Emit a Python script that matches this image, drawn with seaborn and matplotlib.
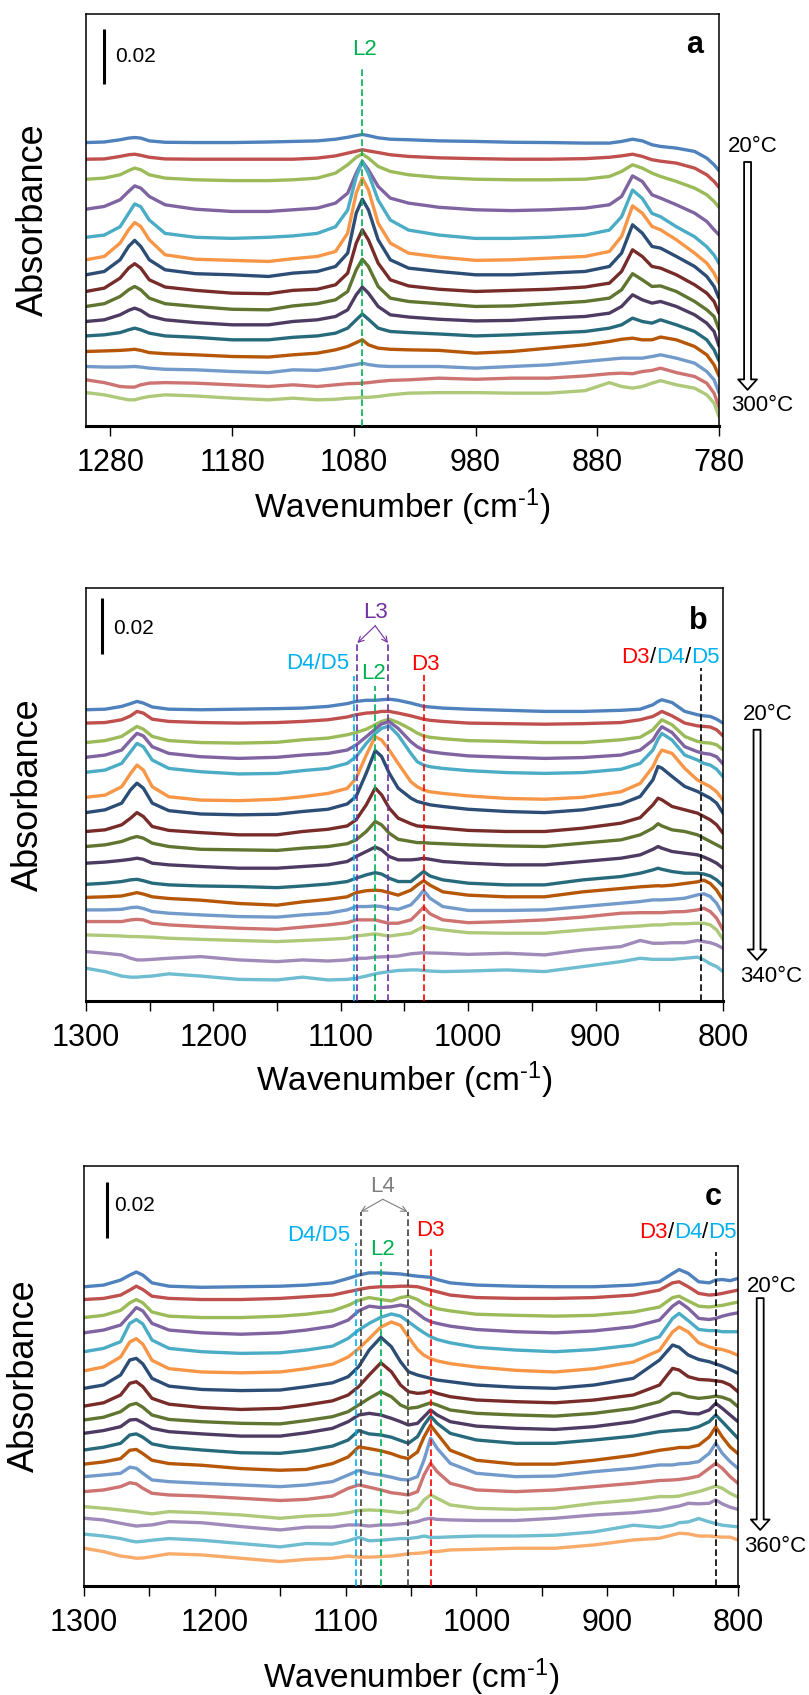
import matplotlib
matplotlib.use("Agg")
import matplotlib.pyplot as plt
import numpy as np
import pandas as pd
import seaborn as sns

# ------------------------------------------------------------------ data
COLORS = ['#4F81BD', '#C0504D', '#9BBB59', '#8064A2', '#4BACC6', '#F79646',
          '#2C4D75', '#772C2A', '#5F7530', '#4D3B62', '#276A7C', '#B65708',
          '#729ACA', '#CD7371', '#AFC97A', '#A08AB9', '#6FBDD1', '#F9AB6B']

# ---- panel a (20-300 C), absorbance in mAU, profile relative to 1300 cm-1 point
wn_a = [1300, 1285, 1272, 1265, 1260, 1255, 1248, 1235, 1210, 1180, 1150, 1130, 1110,
        1095, 1085, 1078, 1073, 1068, 1060, 1050, 1035, 1010, 980, 950, 920, 890, 870,
        860, 851, 843, 835, 828, 815, 800, 790, 784, 780]
temps_a = [20, 40, 60, 80, 100, 120, 140, 160, 180, 200, 220, 240, 260, 280, 300]
offset_a = [102.0, 96.0, 88.8, 78.0, 67.9, 59.8, 54.4, 48.4, 43.0, 37.6, 32.4, 26.8, 21.4, 16.6, 12.0]
a20 = [0, 0.2, 1.0, 1.6, 1.8, 1.6, 0.6, 0.1, 0, 0, 0.2, 0.4, 0.6, 1.2, 1.9, 2.5, 2.9, 2.5, 1.7, 1.2, 1.0, 0.6, 0.4, 0.1, 0, -0.2, -0.2, 0.4, 1.2, 0.6, -0.8, -1.4, -2.0, -3.2, -5.6, -8.0, -10.1]
a40 = [0, 0.1, 1.0, 1.6, 1.8, 1.4, 0.7, 0.1, 0, 0, 0, 0, 0.4, 1.2, 2.2, 2.9, 3.4, 3.0, 2.4, 1.6, 1.0, 0.5, 0.2, 0, 0, 0.2, 0.7, 1.2, 1.8, 1.0, -0.2, -0.7, -1.4, -3.2, -5.6, -8.0, -10.1]
a60 = [0, 0.4, 1.6, 3.1, 4.0, 3.4, 1.6, 0.4, -0.2, -0.5, -0.5, -0.2, 0.4, 2.2, 5.2, 7.9, 9.1, 7.6, 4.6, 2.8, 1.6, 0.6, 0, -0.2, -0.2, 0, 1.0, 2.8, 5.2, 4.0, 2.2, 1.0, -0.8, -3.2, -5.6, -8.0, -10.1]
a80 = [0, 1.0, 3.4, 6.4, 8.4, 7.6, 4.6, 1.6, 0, -0.8, -0.8, -0.2, 0.4, 2.2, 5.8, 13.0, 17.2, 14.2, 8.2, 4.0, 2.2, 0.7, -0.2, -0.5, -0.2, 0.4, 1.6, 4.6, 12.0, 10.0, 5.2, 4.0, 1.6, -1.4, -4.4, -7.4, -9.2]
a100 = [0, 0.8, 3.8, 8.6, 12.0, 11.0, 6.2, 1.4, 0, -0.4, 0, 0.5, 1.4, 3.8, 9.8, 21.8, 27.2, 23.0, 13.4, 6.2, 2.6, 0.8, -0.4, -0.4, 0, 0.8, 2.6, 7.4, 17.0, 14.0, 8.6, 7.4, 3.8, 0.2, -3.4, -6.4, -9.4]
a120 = [0, 1.2, 6.0, 10.8, 13.4, 12.0, 7.2, 1.8, 0.2, -0.2, -0.6, 0.4, 1.2, 3.0, 9.6, 24.0, 29.4, 25.2, 13.2, 6.0, 2.4, 1.0, -0.2, 0, 0.6, 1.2, 3.0, 8.4, 19.4, 16.8, 12.0, 10.8, 7.2, 2.4, -1.2, -4.8, -8.4]
a140 = [0, 1.2, 5.4, 10.2, 12.4, 10.2, 5.4, 1.8, 0.4, 0, -0.6, 0.6, 1.2, 3.0, 7.8, 22.2, 27.2, 23.4, 12.6, 5.4, 2.4, 1.2, 0, 0, 0.6, 1.2, 3.0, 7.8, 18.0, 15.0, 10.2, 9.6, 6.6, 3.0, -0.6, -4.2, -8.4]
a160 = [0, 1.2, 4.8, 8.4, 10.0, 8.4, 4.2, 1.6, 0.4, -0.6, -0.8, 0.4, 0.8, 2.4, 6.6, 17.4, 22.2, 18.6, 10.2, 4.2, 2.0, 0.8, 0, 0.4, 0.8, 1.6, 3.0, 7.2, 15.0, 12.6, 9.0, 8.4, 6.0, 2.4, -0.6, -3.6, -7.8]
a180 = [0, 1.0, 3.6, 6.0, 7.2, 6.0, 3.0, 1.0, 0, -1.0, -1.2, 0.2, 1.0, 2.4, 5.4, 13.2, 17.0, 14.4, 7.2, 3.0, 1.8, 1.0, 0, 0.2, 1.0, 1.8, 3.0, 6.0, 11.8, 9.6, 7.2, 7.4, 5.4, 1.8, -1.2, -3.6, -8.2]
a200 = [0, 0.6, 2.4, 4.0, 4.8, 4.0, 2.0, 0.6, -0.4, -1.2, -1.2, 0, 0.6, 1.8, 4.2, 9.6, 12.4, 10.2, 5.4, 2.4, 1.6, 0.8, 0.2, 0.4, 1.2, 1.8, 3.0, 5.4, 9.6, 7.8, 6.6, 7.2, 5.4, 2.4, -0.6, -3.6, -8.8]
a220 = [0, 0.4, 1.2, 2.2, 2.8, 2.2, 1.0, 0, -0.5, -1.4, -1.4, -0.5, 0, 1.0, 2.8, 5.8, 7.9, 6.0, 2.8, 1.6, 1.2, 0.7, 0, 0.4, 1.0, 1.6, 2.8, 4.0, 6.4, 5.2, 4.6, 5.8, 4.0, 1.6, -1.4, -5.0, -8.9]
a240 = [0, 0.2, 0.4, 0.6, 0.8, 0.4, -0.4, -0.8, -1.2, -1.8, -2.0, -1.2, -0.6, 0.6, 1.8, 3.2, 4.2, 2.4, 1.2, 0.8, 0.6, 0.4, -0.6, 0, 1.2, 2.4, 3.6, 4.4, 4.8, 4.2, 4.2, 5.2, 4.2, 1.8, -1.2, -4.8, -8.8]
a260 = [0, -0.2, -0.2, -0.1, 0, -0.2, -0.6, -1.0, -1.2, -1.8, -2.2, -1.2, -1.4, -0.6, 0.2, 0.7, 1.2, 0.7, 0.2, 0, 0, 0, -0.6, 0, 0.6, 1.8, 2.6, 3.0, 3.0, 3.0, 3.6, 4.2, 3.0, 1.2, -1.8, -4.8, -9.4]
a280 = [0, -1.0, -2.4, -2.6, -2.6, -1.8, -1.2, -1.0, -1.2, -1.8, -2.4, -1.8, -2.4, -1.8, -1.4, -1.3, -1.2, -1.0, -0.6, -0.2, 0, 0.6, 0.2, 0.6, 0.6, 1.4, 2.2, 2.4, 2.2, 3.0, 3.4, 4.2, 2.6, 1.2, -1.2, -4.8, -9.8]
a300 = [0, -0.8, -2.0, -2.6, -2.6, -2.0, -1.4, -0.8, -1.2, -2.0, -2.6, -2.0, -2.6, -2.4, -2.0, -1.9, -1.7, -1.7, -1.4, -0.8, -0.2, 0, 0, -0.2, -0.2, 0.7, 3.6, 2.2, 1.6, 2.2, 3.4, 4.3, 2.8, 1.6, -0.8, -3.8, -8.6]
spectra_a = [a20, a40, a60, a80, a100, a120, a140, a160, a180, a200, a220, a240, a260, a280, a300]

# ---- panel b (20-340 C)
wn_b = [1300, 1285, 1272, 1265, 1260, 1255, 1248, 1235, 1210, 1180, 1150, 1130, 1110,
        1095, 1088, 1080, 1073, 1068, 1062, 1055, 1045, 1040, 1035, 1030, 1020, 1000, 970,
        940, 910, 880, 865, 855, 851, 848, 840, 830, 820, 815, 810, 805, 800]
temps_b = [20, 40, 60, 80, 100, 120, 140, 160, 180, 200, 220, 240, 260, 280, 300, 320, 340]
offset_b = [104.8, 100.0, 93.0, 87.7, 82.3, 73.3, 67.8, 61.0, 55.6, 49.6, 42.0, 37.3, 32.8, 28.6, 23.8, 17.8, 11.8]
b20 = [0, 0.2, 1.2, 2.2, 3.0, 2.4, 1.0, 0.2, 0, 0.2, 0.4, 0.6, 1.2, 2.2, 3.0, 3.4, 3.4, 3.6, 3.8, 3.4, 2.4, 1.8, 1.2, 1.0, 0.6, 0.2, -0.2, -0.6, -0.6, -0.2, 0.2, 1.8, 3.0, 3.6, 2.6, -0.6, -1.8, -2.2, -2.4, -3.4, -4.8]
b40 = [0, 0.2, 1.2, 2.6, 4.2, 3.6, 1.4, 0.6, 0.2, 0, 0.2, 0.6, 1.2, 2.2, 3.0, 3.6, 3.8, 4.2, 4.2, 3.6, 2.6, 2.0, 1.4, 1.0, 0.6, 0, -0.2, -0.4, -0.2, 0.2, 1.2, 2.4, 3.4, 4.2, 2.6, 0, -1.0, -1.2, -1.4, -2.4, -4.6]
b60 = [0, 0.7, 2.2, 4.3, 5.8, 4.8, 2.2, 0.7, 0, -0.2, 0.1, 1.0, 1.6, 2.8, 3.6, 4.8, 6.4, 7.6, 8.4, 7.2, 4.8, 3.4, 2.4, 1.9, 1.4, 0.7, 0.4, 0, 0, 1.0, 1.9, 4.6, 6.7, 8.2, 6.4, 2.2, 0.4, 0, -0.2, -0.8, -2.6]
b80 = [0, 0.8, 2.6, 6.2, 8.6, 7.7, 3.8, 1.4, 0.2, -0.4, 0, 0.8, 1.4, 2.6, 4.4, 7.4, 10.1, 12.0, 12.8, 10.4, 5.6, 3.8, 2.6, 2.0, 1.4, 0.5, 0, -0.4, -0.1, 0.8, 2.6, 6.2, 9.2, 11.0, 8.9, 3.8, 2.0, 1.4, 1.1, 0.2, -2.4]
b100 = [0, 0.8, 3.2, 7.4, 10.4, 9.2, 4.4, 1.4, 0.2, -0.6, -0.4, 0.6, 1.4, 3.2, 5.6, 10.4, 14.0, 15.8, 16.7, 13.4, 6.8, 3.8, 2.6, 2.0, 1.4, 0.6, -0.1, -0.4, -0.1, 1.1, 3.2, 8.0, 11.9, 14.0, 11.6, 6.2, 4.4, 3.2, 2.6, 1.1, -1.6]
b120 = [0, 0.8, 3.8, 8.6, 11.6, 9.8, 3.8, 0.2, -1.0, -1.2, -0.7, 0.2, 1.4, 3.2, 6.8, 15.2, 21.8, 20.6, 17.0, 12.2, 5.6, 3.8, 2.6, 2.0, 1.4, 0.5, -0.4, -0.7, 0, 2.0, 5.0, 11.0, 14.9, 17.0, 15.8, 10.4, 6.2, 5.0, 3.8, 2.0, -1.0]
b140 = [0, 1.0, 3.4, 8.2, 10.6, 8.8, 3.4, 0.7, -0.5, -0.8, -0.6, 0.4, 1.2, 3.1, 5.8, 14.2, 22.3, 20.2, 14.2, 8.8, 5.2, 4.0, 3.4, 2.8, 2.2, 1.2, 0.4, 0, 1.0, 3.1, 5.8, 11.8, 16.6, 16.0, 13.0, 9.4, 7.6, 6.4, 5.2, 3.4, -0.2]
b160 = [0, 0.6, 2.4, 4.8, 6.8, 5.4, 1.8, 0.4, -0.4, -1.2, -1.2, 0, 0.8, 2.0, 4.2, 9.6, 15.6, 13.2, 8.4, 4.8, 2.8, 2.0, 1.8, 1.6, 1.2, 0.4, 0, 0, 1.2, 3.0, 5.0, 9.6, 12.0, 11.4, 9.0, 7.8, 6.6, 5.4, 4.2, 2.4, -0.6]
b180 = [0, 0.6, 1.8, 3.0, 3.6, 3.0, 1.2, 0, -1.0, -1.2, -1.4, -0.6, 0, 1.0, 2.4, 5.4, 9.0, 7.8, 4.8, 2.6, 1.8, 1.4, 1.4, 1.2, 1.0, 0.6, 0.2, 0, 1.2, 2.4, 4.2, 6.6, 8.2, 7.4, 6.0, 5.4, 4.2, 3.0, 1.8, 0.6, -0.6]
b200 = [0, 0.4, 1.0, 1.4, 1.8, 1.4, 0, -0.6, -1.2, -1.8, -1.8, -1.2, -0.6, 0.6, 2.4, 4.2, 5.8, 4.8, 2.4, 1.2, 1.2, 1.4, 1.8, 1.4, 0.6, 0, -0.6, -0.6, 0.6, 1.8, 3.0, 5.0, 6.0, 5.4, 4.2, 3.6, 3.0, 2.2, 1.2, 0, -1.8]
b220 = [0, 0.4, 1.0, 1.6, 1.8, 1.3, 0.4, -0.2, -0.6, -0.8, -1.2, -0.6, 0.1, 1.0, 2.2, 3.4, 4.2, 3.7, 2.2, 1.0, 1.0, 2.8, 4.6, 3.0, 1.6, 0.4, -0.2, -0.2, 1.6, 2.8, 4.0, 5.2, 5.8, 5.4, 4.6, 4.0, 4.0, 3.7, 3.0, 1.6, -0.6]
b240 = [0, 0.2, 0.5, 1.2, 1.7, 1.2, 0.2, -0.4, -1.0, -2.2, -2.8, -1.6, -0.7, 0.2, 1.7, 2.4, 2.6, 2.4, 1.7, 0.8, 2.6, 4.4, 6.0, 4.4, 2.0, 0.8, 0.2, 0.2, 2.0, 3.2, 3.8, 4.1, 4.2, 4.1, 4.4, 5.0, 5.6, 6.2, 5.0, 2.6, -1.0]
b260 = [0, 0, 0.2, 0.8, 1.0, 0.5, -0.6, -1.2, -1.8, -2.4, -2.6, -1.8, -1.2, 0, 1.2, 1.2, 1.4, 1.2, 0.6, 0.2, 1.8, 4.2, 7.0, 4.2, 1.2, -0.2, -0.2, 0, 1.2, 2.4, 3.0, 3.6, 3.6, 3.6, 3.8, 4.2, 5.4, 5.8, 4.8, 2.4, -1.8]
b280 = [0, 0, 0, 0.6, 0.8, 0.6, -0.6, -1.2, -1.8, -2.4, -2.8, -2.0, -1.2, -0.4, 0.6, 0.6, 0.6, 0, -0.6, -0.6, 0.6, 2.8, 5.2, 2.8, 0.6, -0.4, 0, 0.6, 1.6, 3.0, 3.2, 3.2, 3.2, 3.2, 3.5, 3.6, 4.2, 4.8, 3.6, 1.2, -3.0]
b300 = [0, -0.2, -0.4, -0.6, -0.6, -0.7, -0.8, -1.2, -1.6, -2.0, -2.4, -2.0, -1.6, -1.2, -0.4, 0, 0.4, 0, -0.4, 0, 0.6, 1.8, 3.0, 2.4, 1.8, 0.8, 0.6, 0.6, 1.8, 2.8, 3.2, 3.6, 3.6, 3.6, 4.0, 4.0, 4.2, 4.2, 3.6, 1.8, -1.6]
b320 = [0, -0.6, -1.2, -2.4, -3.0, -3.0, -2.8, -2.4, -1.8, -3.0, -3.6, -3.0, -3.4, -3.0, -2.4, -2.4, -2.0, -1.9, -1.8, -1.6, -0.8, -0.6, -0.4, -0.5, -0.6, -1.0, -0.6, -1.2, 0.6, 1.8, 4.0, 3.0, 3.0, 3.0, 3.2, 3.2, 4.0, 3.6, 3.2, 2.4, 1.2]
b340 = [0, -1.2, -2.8, -3.2, -3.2, -3.0, -2.8, -2.0, -2.8, -4.0, -4.2, -3.2, -4.2, -4.0, -3.6, -2.8, -2.0, -1.6, -1.2, -0.8, -0.6, -0.6, -0.8, -1.0, -1.2, -1.0, -0.6, -1.2, 0.6, 2.4, 3.6, 3.2, 3.2, 3.2, 3.2, 3.6, 4.0, 3.0, 1.6, 0.6, -1.2]
spectra_b = [b20, b40, b60, b80, b100, b120, b140, b160, b180, b200, b220, b240, b260, b280, b300, b320, b340]

# ---- panel c (20-360 C)
wn_c = [1300, 1285, 1272, 1265, 1260, 1255, 1248, 1235, 1210, 1180, 1150, 1130, 1110,
        1098, 1090, 1082, 1073, 1065, 1058, 1052, 1045, 1040, 1035, 1030, 1020, 1000, 970,
        940, 910, 880, 860, 850, 845, 838, 830, 822, 817, 812, 806, 800]
temps_c = [20, 40, 60, 80, 100, 120, 140, 160, 180, 200, 220, 240, 260, 280, 300, 320, 340, 360]
offset_c = [107.8, 103.2, 96.7, 91.2, 84.4, 77.5, 71.2, 64.8, 59.8, 55.0, 49.0, 43.9, 39.4, 34.0, 28.6, 24.4, 18.7, 13.6]
c20 = [0, 0.6, 2.4, 4.2, 5.3, 4.2, 1.4, 0.2, -0.2, 0, 0.2, 0.6, 1.4, 3.0, 4.2, 5.0, 5.0, 4.8, 4.6, 4.2, 3.8, 3.6, 3.4, 2.6, 1.4, 0.6, 0.2, 0, 0, 0.6, 1.8, 4.8, 6.2, 4.8, 1.8, 1.4, 2.4, 2.6, 2.2, 3.0]
c40 = [0, 0.4, 1.6, 3.4, 4.8, 3.6, 1.2, 0.4, 0, 0, 0.4, 1.0, 1.6, 2.8, 3.6, 4.3, 4.6, 4.6, 4.8, 4.8, 4.6, 4.0, 3.4, 2.8, 1.6, 0.7, 0.4, 0.4, 0.7, 1.6, 3.4, 6.0, 6.4, 4.6, 2.2, 1.6, 1.8, 2.2, 2.8, 3.4]
c60 = [0, 0.8, 2.6, 5.3, 6.5, 5.3, 2.0, 0.5, 0, 0, 0.5, 1.2, 2.4, 4.4, 6.2, 7.2, 6.5, 6.0, 7.2, 7.7, 6.5, 5.0, 4.1, 3.2, 2.4, 1.2, 0.8, 0.5, 0.8, 2.0, 3.8, 7.2, 7.7, 6.0, 4.1, 3.8, 4.1, 4.4, 5.0, 5.6]
c80 = [0, 1.0, 2.8, 6.4, 9.1, 7.9, 3.4, 1.0, 0, -0.5, 0, 1.0, 2.4, 4.6, 7.9, 9.6, 9.1, 9.4, 10.0, 9.4, 7.0, 5.2, 4.0, 3.4, 2.4, 1.2, 0.4, 0, 0.7, 2.2, 4.6, 9.6, 11.2, 8.8, 5.2, 4.8, 5.2, 6.0, 6.7, 7.2]
c100 = [0, 1.2, 3.6, 10.2, 11.6, 10.0, 4.2, 1.2, 0, -0.6, -0.4, 0.6, 2.0, 4.8, 7.8, 10.2, 12.4, 13.6, 12.8, 10.8, 8.4, 6.8, 5.4, 4.4, 3.2, 1.6, 0.6, 0, 0.8, 2.4, 5.4, 12.0, 13.8, 11.2, 8.0, 7.6, 7.6, 7.2, 7.2, 7.2]
c120 = [0, 1.4, 5.0, 10.4, 11.6, 9.6, 3.8, 0.8, -0.4, -0.7, -0.4, 0.8, 2.4, 5.0, 8.0, 11.6, 15.8, 17.6, 16.4, 12.2, 7.7, 5.6, 4.4, 3.6, 2.6, 1.4, 0.2, -0.4, 0.8, 3.2, 7.4, 14.0, 15.8, 14.0, 10.1, 8.6, 8.0, 7.7, 6.8, 5.6]
c140 = [0, 1.2, 4.8, 10.2, 10.8, 8.8, 3.6, 0.8, -0.4, -0.8, -0.6, 0.6, 2.0, 4.2, 7.8, 13.8, 18.4, 15.0, 9.6, 6.0, 4.8, 4.2, 3.6, 3.0, 2.4, 1.2, 0.4, 0, 1.2, 3.6, 10.2, 15.6, 14.8, 12.0, 10.4, 9.6, 8.8, 8.0, 6.8, 5.4]
c160 = [0, 1.2, 4.0, 8.2, 8.8, 7.0, 2.8, 0.7, -0.5, -1.2, -0.8, 0.4, 1.9, 4.0, 7.0, 11.2, 15.6, 12.4, 7.6, 5.2, 4.6, 4.8, 5.5, 4.6, 3.4, 2.2, 1.6, 1.2, 2.2, 4.0, 7.6, 13.6, 13.0, 10.6, 9.6, 9.4, 9.1, 8.8, 7.6, 5.2]
c180 = [0, 1.0, 3.0, 5.4, 6.0, 4.6, 1.8, 0.2, -0.6, -1.2, -1.4, -0.2, 1.2, 3.0, 5.4, 7.8, 10.2, 8.4, 5.4, 4.2, 4.6, 5.4, 6.2, 5.4, 3.6, 2.4, 1.8, 1.4, 2.4, 4.2, 6.6, 9.6, 9.6, 8.4, 7.8, 8.2, 8.6, 8.2, 7.2, 4.8]
c200 = [0, 1.0, 2.4, 4.8, 5.0, 3.8, 1.8, 0.6, -0.2, -1.0, -1.0, 0.2, 1.8, 4.2, 6.6, 7.2, 6.6, 5.4, 4.2, 3.0, 3.6, 6.0, 8.4, 6.6, 4.2, 2.6, 1.8, 1.4, 2.4, 4.2, 6.6, 7.8, 7.8, 7.2, 7.0, 8.4, 10.8, 9.0, 6.6, 4.2]
c220 = [0, 1.0, 2.4, 5.4, 5.8, 4.6, 2.2, 1.0, 0, -1.0, -1.2, -0.2, 1.4, 3.6, 7.0, 5.8, 5.4, 4.6, 3.4, 2.4, 4.8, 9.0, 12.2, 9.6, 6.0, 3.6, 2.4, 2.4, 3.6, 5.0, 6.6, 7.0, 7.2, 7.4, 8.4, 10.2, 12.6, 10.2, 7.2, 4.2]
c240 = [0, 0.8, 2.0, 5.0, 5.3, 3.8, 1.4, 0.2, -0.4, -1.6, -2.2, -1.9, 0.2, 2.6, 6.2, 5.6, 4.8, 3.8, 2.6, 2.0, 4.4, 9.8, 14.0, 11.0, 5.0, 1.4, 0, 0, 1.4, 3.2, 5.0, 5.6, 6.0, 6.0, 6.8, 9.8, 13.4, 9.8, 6.2, 3.8]
c260 = [0, 0.6, 1.2, 3.4, 3.0, 1.2, -1.2, -1.8, -2.4, -3.0, -3.6, -3.0, -1.8, 0.6, 2.2, 1.2, 0.6, -0.2, -1.0, -1.2, 0, 6.0, 13.8, 10.2, 4.8, 1.2, 0, 0.2, 1.8, 3.0, 4.2, 4.2, 4.6, 4.8, 5.4, 8.4, 12.0, 8.4, 5.4, 3.0]
c280 = [0, 0.6, 1.8, 3.2, 2.8, 1.2, -0.6, -1.2, -1.6, -2.4, -3.2, -2.8, -1.6, 1.2, 2.4, 1.6, 0.6, -0.4, -0.8, -1.2, 0, 6.0, 10.2, 7.2, 3.0, 0.6, 0, 0.6, 1.8, 3.0, 4.0, 4.2, 4.4, 4.8, 5.6, 8.4, 10.2, 8.4, 5.4, 3.0]
c300 = [0, -0.6, -1.2, -1.6, -1.8, -2.2, -2.6, -1.8, -2.2, -3.0, -4.2, -3.4, -3.0, -2.2, -1.4, -1.2, -1.4, -1.8, -2.2, -1.8, -0.6, 2.4, 4.2, 3.0, 0.6, -0.6, -1.0, -0.6, 1.2, 2.4, 3.6, 3.6, 3.8, 4.6, 5.4, 6.6, 7.4, 6.6, 4.8, 3.4]
c320 = [0, -0.6, -1.8, -2.4, -2.8, -2.6, -2.4, -1.2, -1.6, -3.0, -4.2, -3.2, -3.2, -2.4, -2.4, -2.8, -2.4, -2.4, -2.0, -1.8, -1.2, -0.4, 0, -0.4, -0.6, -0.8, -0.8, 0, 1.2, 2.0, 3.0, 4.0, 4.4, 5.4, 5.2, 5.4, 6.6, 5.2, 4.0, 3.2]
c340 = [0, -0.7, -1.6, -2.4, -2.8, -2.6, -2.2, -1.6, -2.2, -3.4, -4.6, -3.4, -3.6, -2.4, -1.2, -2.4, -2.2, -1.9, -1.6, -1.6, -1.2, -0.7, -1.2, -1.2, -1.0, -0.7, -0.7, -0.4, 0.8, 3.2, 2.4, 3.2, 4.1, 4.4, 5.6, 4.4, 3.8, 3.2, 2.9, 2.6]
c360 = [0, -1.2, -2.8, -3.2, -3.6, -3.5, -3.0, -2.0, -2.4, -3.6, -4.8, -4.0, -3.6, -2.8, -3.2, -3.2, -3.0, -2.8, -2.4, -2.0, -1.8, -1.6, -1.2, -1.2, -0.6, -0.4, 0, 0, 1.2, 3.0, 3.6, 4.8, 5.4, 5.2, 4.4, 4.4, 4.2, 4.0, 4.0, 3.0]
spectra_c = [c20, c40, c60, c80, c100, c120, c140, c160, c180, c200, c220, c240, c260, c280, c300, c320, c340, c360]

# ------------------------------------------------------------------ style
sns.set_theme(style="white")
plt.rcParams['font.family'] = ['Liberation Sans', 'DejaVu Sans']
plt.rcParams['mathtext.fontset'] = 'custom'
plt.rcParams['mathtext.rm'] = 'Liberation Sans'
plt.rcParams['mathtext.it'] = 'Liberation Sans:italic'
plt.rcParams['axes.unicode_minus'] = False

C_CYAN, C_GREEN, C_RED, C_PURP, C_GREY = '#00B0F0', '#00B050', '#FF0000', '#7030A0', '#7F7F7F'

fig = plt.figure(figsize=(8.09, 16.95), dpi=100)
ax_a = fig.add_axes([0.1063, 0.7487, 0.7824, 0.2431])
ax_b = fig.add_axes([0.1063, 0.4094, 0.7874, 0.2437])
ax_c = fig.add_axes([0.1038, 0.0643, 0.8084, 0.2478])


def draw_spectra(ax, wn, temps, offsets, spectra):
    rows = []
    for t, off, sp in zip(temps, offsets, spectra):
        for w, v in zip(wn, sp):
            rows.append((w, off + v, f"{t}°C"))
    df = pd.DataFrame(rows, columns=["wn", "abs", "T"])
    order = [f"{t}°C" for t in temps]
    sns.lineplot(data=df, x="wn", y="abs", hue="T", hue_order=order,
                 palette=COLORS[:len(temps)], estimator=None, errorbar=None,
                 legend=False, linewidth=2.4, ax=ax)


def style_axes(ax, xlim, ylim_top, majors, minors, xlab_y, ylab_x):
    ax.set_xlim(*xlim)
    ax.set_ylim(0, ylim_top)
    ax.set_yticks([])
    ax.set_xticks(majors)
    ax.set_xticklabels([str(m) for m in majors])
    if minors:
        ax.set_xticks(minors, minor=True)
    ax.tick_params(axis='x', which='both', direction='out', length=7, width=1.0,
                   bottom=True, color='black', labelsize=22, pad=9, labelcolor='black')
    for side in ['top', 'right', 'left']:
        ax.spines[side].set_color('black')
        ax.spines[side].set_linewidth(1.1)
    ax.spines['bottom'].set_color('black')
    ax.spines['bottom'].set_linewidth(2.2)
    ax.set_xlabel(r'Wavenumber (cm$^{\text{-1}}$)', fontsize=24, color='black')
    ax.xaxis.set_label_coords(0.5, xlab_y)
    ax.xaxis.label.set_va('center')
    ax.set_ylabel('Absorbance', fontsize=26, color='black')
    ax.yaxis.set_label_coords(ylab_x, 0.5)
    ax.yaxis.label.set_va('center')


def vline(ax, x, top, color):
    ax.plot([x, x], [0, top], color=color, lw=1.2, ls=(0, (4, 2)), zorder=4)


def scale_bar(ax, x, y0, y1, tx, ty):
    ax.plot([x, x], [y0, y1], color='black', lw=2.2, solid_capstyle='butt', zorder=5)
    ax.text(tx, ty, '0.02', fontsize=15, ha='left', va='center', color='black')


def temp_arrow(ax, tx_top, ty_top, ax_x, a_top, a_bot, tx_bot, ty_bot, top_lab, bot_lab):
    ax.text(tx_top, ty_top, top_lab, fontsize=16, ha='center', va='center', color='black')
    ax.text(tx_bot, ty_bot, bot_lab, fontsize=16, ha='center', va='center', color='black')
    ax.annotate('', xy=(ax_x, a_bot), xytext=(ax_x, a_top), xycoords='data',
                annotation_clip=False,
                arrowprops=dict(arrowstyle='simple,head_width=1.35,head_length=0.75,tail_width=0.5',
                                fc='white', ec='black', lw=1.3, mutation_scale=10,
                                shrinkA=0, shrinkB=0))


def multicolor_right(ax, x, y, parts, size=16):
    prev = None
    for txt, col in reversed(parts):
        if prev is None:
            prev = ax.text(x, y, txt, color=col, ha='right', va='center', fontsize=size)
        else:
            prev = ax.annotate(txt, xy=(0, 0.5), xycoords=prev, ha='right', va='center',
                               color=col, fontsize=size)


def bracket(ax, x0, y0, xl, xr, ytop, color):
    for xe in (xl, xr):
        ax.annotate('', xy=(xe, ytop), xytext=(x0, y0), xycoords='data',
                    arrowprops=dict(arrowstyle='->', color=color, lw=0.8,
                                    shrinkA=0, shrinkB=0, mutation_scale=10))


D345 = [('D3', C_RED), ('/', 'black'), ('D4', C_CYAN), ('/', 'black'), ('D5', C_CYAN)]

# ------------------------------------------------------------------ panel a
draw_spectra(ax_a, wn_a, temps_a, offset_a, spectra_a)
style_axes(ax_a, (1300, 780), 148.3, [1280, 1180, 1080, 980, 880, 780], None, -0.197, -0.083)
vline(ax_a, 1073, 128.8, C_GREEN)
ax_a.text(1071, 135.4, 'L2', color=C_GREEN, fontsize=16, ha='center', va='center')
scale_bar(ax_a, 1285.2, 123.0, 143.0, 1276, 132.8)
ax_a.text(800, 137.2, 'a', fontsize=22, fontweight='bold', ha='center', va='center', color='black')
temp_arrow(ax_a, 752.4, 100.4, 756.5, 95.0, 13.0, 744.2, 7.2, '20°C', '300°C')

# ------------------------------------------------------------------ panel b
draw_spectra(ax_b, wn_b, temps_b, offset_b, spectra_b)
style_axes(ax_b, (1300, 800), 148.6, list(range(1300, 799, -100)), list(range(1250, 849, -100)),
           -0.191, -0.090)
vline(ax_b, 1090, 117.0, C_CYAN)
vline(ax_b, 1087, 128.8, C_PURP)
vline(ax_b, 1063, 128.8, C_PURP)
vline(ax_b, 1073, 113.2, C_GREEN)
vline(ax_b, 1035, 117.4, C_RED)
vline(ax_b, 817, 119.8, 'black')
ax_b.text(1073, 139.8, 'L3', color=C_PURP, fontsize=16, ha='center', va='center')
bracket(ax_b, 1073, 135.0, 1087, 1063, 128.8, C_PURP)
ax_b.text(1118, 121.6, 'D4/D5', color=C_CYAN, fontsize=16, ha='center', va='center')
ax_b.text(1074, 118.0, 'L2', color=C_GREEN, fontsize=16, ha='center', va='center')
ax_b.text(1033.4, 121.0, 'D3', color=C_RED, fontsize=16, ha='center', va='center')
multicolor_right(ax_b, 803, 123.7, D345)
scale_bar(ax_b, 1287.5, 125.0, 145.0, 1279, 134.2)
ax_b.text(819, 136.6, 'b', fontsize=22, fontweight='bold', ha='center', va='center', color='black')
temp_arrow(ax_b, 764.7, 103.0, 773.3, 97.6, 14.8, 762.3, 9.0, '20°C', '340°C')

# ------------------------------------------------------------------ panel c
draw_spectra(ax_c, wn_c, temps_c, offset_c, spectra_c)
style_axes(ax_c, (1300, 800), 151.3, list(range(1300, 799, -100)), list(range(1250, 849, -100)),
           -0.217, -0.091)
vline(ax_c, 1091.7, 123.6, C_CYAN)
vline(ax_c, 1088.5, 134.8, '#404040')
vline(ax_c, 1052.6, 134.8, '#404040')
vline(ax_c, 1072.7, 116.8, C_GREEN)
vline(ax_c, 1034.8, 122.4, C_RED)
vline(ax_c, 816.6, 120.4, 'black')
ax_c.text(1071.5, 143.8, 'L4', color=C_GREY, fontsize=16, ha='center', va='center')
bracket(ax_c, 1071.5, 139.3, 1088.5, 1052.6, 134.8, C_GREY)
ax_c.text(1120.5, 126.4, 'D4/D5', color=C_CYAN, fontsize=16, ha='center', va='center')
ax_c.text(1071.5, 121.2, 'L2', color=C_GREEN, fontsize=16, ha='center', va='center')
ax_c.text(1034.8, 127.9, 'D3', color=C_RED, fontsize=16, ha='center', va='center')
multicolor_right(ax_c, 800.8, 127.2, D345)
scale_bar(ax_c, 1282.6, 125.5, 145.5, 1276.7, 137.2)
ax_c.text(818.6, 140.2, 'c', fontsize=22, fontweight='bold', ha='center', va='center', color='black')
temp_arrow(ax_c, 774.0, 108.0, 783.0, 103.7, 20.2, 771.7, 14.4, '20°C', '360°C')

fig.savefig("out.png", dpi=100, facecolor='white')
